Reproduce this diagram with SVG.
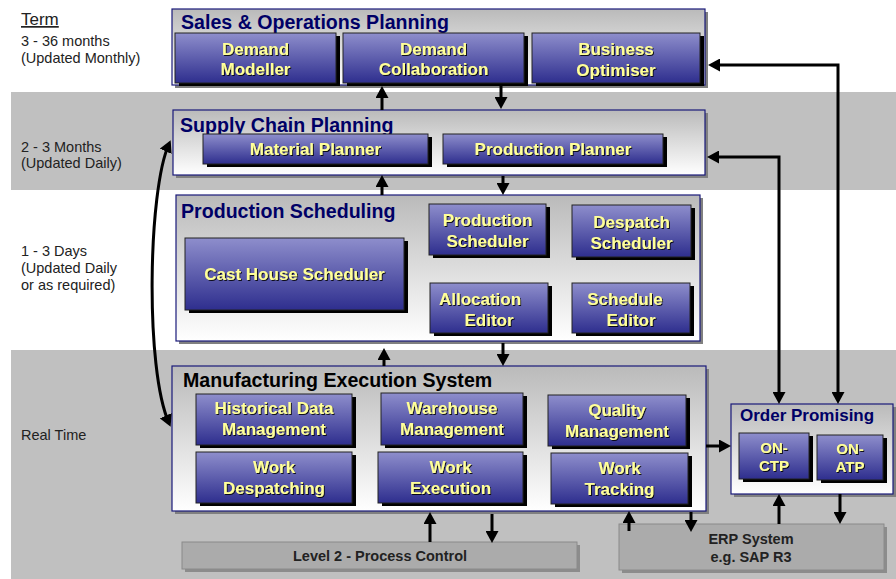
<svg xmlns="http://www.w3.org/2000/svg" width="896" height="579" viewBox="0 0 896 579">
<defs>
  <linearGradient id="btnGrad" x1="0" y1="0" x2="0" y2="1">
    <stop offset="0" stop-color="#8e8ecc"/>
    <stop offset="1" stop-color="#2e2e8e"/>
  </linearGradient>
  <linearGradient id="panelGrad" x1="0" y1="0" x2="0" y2="1">
    <stop offset="0" stop-color="#bababa"/>
    <stop offset="1" stop-color="#ffffff"/>
  </linearGradient>
  <filter id="ts" x="-10%" y="-30%" width="120%" height="160%">
    <feDropShadow dx="1" dy="1" stdDeviation="0.3" flood-color="#000" flood-opacity="0.85"/>
  </filter>
  <marker id="ah" viewBox="0 0 12 13" markerWidth="12" markerHeight="13" refX="8" refY="6.5" orient="auto-start-reverse" markerUnits="userSpaceOnUse">
    <path d="M0,0 L12,6.5 L0,13 z" fill="#000"/>
  </marker>
</defs>
<style>
  .band{fill:#c0c0c0}
  .lbl{font-family:"Liberation Sans",Arial,sans-serif;font-size:14.5px;fill:#222}
  .term{font-family:"Liberation Sans",Arial,sans-serif;font-size:17px;fill:#222;text-decoration:underline}
  .pshadow{fill:#808080}
  .panel{fill:url(#panelGrad);stroke:#1a1a7a;stroke-width:1.2}
  .ptitle{font-family:"Liberation Sans",Arial,sans-serif;font-weight:bold;font-size:19.6px;fill:#000066}
  .mtitle{font-family:"Liberation Sans",Arial,sans-serif;font-weight:bold;font-size:19.6px;fill:#000}
  .otitle{font-family:"Liberation Sans",Arial,sans-serif;font-weight:bold;font-size:17px;fill:#000066}
  .bshadow{fill:#000}
  .btn{fill:url(#btnGrad);stroke:#222;stroke-width:1}
  .bt{font-family:"Liberation Sans",Arial,sans-serif;font-weight:bold;font-size:17px;fill:#ffff99;text-anchor:middle;filter:url(#ts)}
  .bt15{font-family:"Liberation Sans",Arial,sans-serif;font-weight:bold;font-size:15px;fill:#ffff99;text-anchor:middle;filter:url(#ts)}
  .gbox{fill:#ababab;stroke:#8a8a8a;stroke-width:1}
  .gshadow{fill:#8c8c8c}
  .gt{font-family:"Liberation Sans",Arial,sans-serif;font-weight:bold;font-size:14.5px;fill:#222;text-anchor:middle}
  .conn{fill:none;stroke:#000;stroke-width:3}
</style>
<rect x="0" y="0" width="896" height="579" fill="#fff"/>
<g id="bands">
  <rect class="band" x="11" y="92" width="885" height="98"/>
  <rect class="band" x="11" y="350" width="885" height="229"/>
</g>
<g id="term-labels">
  <text class="term" x="21" y="25">Term</text>
  <text class="lbl" x="21" y="46">3 - 36 months</text>
  <text class="lbl" x="21" y="63">(Updated Monthly)</text>
  <text class="lbl" x="21" y="152">2 - 3 Months</text>
  <text class="lbl" x="21" y="168">(Updated Daily)</text>
  <text class="lbl" x="21" y="256">1 - 3 Days</text>
  <text class="lbl" x="21" y="273">(Updated Daily</text>
  <text class="lbl" x="21" y="290">or as required)</text>
  <text class="lbl" x="21" y="440">Real Time</text>
</g>

<g id="sales-operations-planning">
  <rect class="pshadow" x="175" y="12" width="533" height="76"/>
  <rect class="panel" x="172" y="9" width="533" height="76"/>
  <text class="ptitle" x="181" y="29">Sales &amp; Operations Planning</text>
  <g id="demand-modeller">
    <rect class="bshadow" x="179" y="36" width="161" height="50"/>
    <rect class="btn" x="175" y="33" width="161" height="50"/>
    <text class="bt" x="255.5" y="55">Demand</text>
    <text class="bt" x="255.5" y="75">Modeller</text>
  </g>
  <g id="demand-collaboration">
    <rect class="bshadow" x="347" y="36" width="181" height="50"/>
    <rect class="btn" x="343" y="33" width="181" height="50"/>
    <text class="bt" x="433.5" y="55">Demand</text>
    <text class="bt" x="433.5" y="75">Collaboration</text>
  </g>
  <g id="business-optimiser">
    <rect class="bshadow" x="536" y="36" width="168" height="50"/>
    <rect class="btn" x="532" y="33" width="168" height="50"/>
    <text class="bt" x="616" y="55">Business</text>
    <text class="bt" x="616" y="76">Optimiser</text>
  </g>
</g>

<g id="supply-chain-planning">
  <rect class="pshadow" x="176" y="113" width="532" height="65"/>
  <rect class="panel" x="173" y="110" width="532" height="65"/>
  <text class="ptitle" x="180" y="132">Supply Chain Planning</text>
  <g id="material-planner">
    <rect class="bshadow" x="207" y="137" width="225" height="30"/>
    <rect class="btn" x="203" y="134" width="225" height="30"/>
    <text class="bt" x="315.5" y="155">Material Planner</text>
  </g>
  <g id="production-planner">
    <rect class="bshadow" x="447" y="137" width="220" height="30"/>
    <rect class="btn" x="443" y="134" width="220" height="30"/>
    <text class="bt" x="553" y="155">Production Planner</text>
  </g>
</g>

<g id="production-scheduling">
  <rect class="pshadow" x="179" y="198" width="524" height="146"/>
  <rect class="panel" x="176" y="195" width="524" height="146"/>
  <text class="ptitle" x="181" y="218">Production Scheduling</text>
  <g id="cast-house-scheduler">
    <rect class="bshadow" x="189" y="241" width="219" height="72"/>
    <rect class="btn" x="185" y="238" width="219" height="72"/>
    <text class="bt" x="294.5" y="280">Cast House Scheduler</text>
  </g>
  <g id="production-scheduler">
    <rect class="bshadow" x="433" y="207" width="117" height="51"/>
    <rect class="btn" x="429" y="204" width="117" height="51"/>
    <text class="bt" x="487.5" y="226">Production</text>
    <text class="bt" x="487.5" y="247">Scheduler</text>
  </g>
  <g id="despatch-scheduler">
    <rect class="bshadow" x="576" y="208" width="119" height="52"/>
    <rect class="btn" x="572" y="205" width="119" height="52"/>
    <text class="bt" x="631.5" y="228">Despatch</text>
    <text class="bt" x="631.5" y="249">Scheduler</text>
  </g>
  <g id="allocation-editor">
    <rect class="bshadow" x="434" y="286" width="118" height="50"/>
    <rect class="btn" x="430" y="283" width="118" height="50"/>
    <text class="bt" x="480" y="305">Allocation</text>
    <text class="bt" x="489" y="326">Editor</text>
  </g>
  <g id="schedule-editor">
    <rect class="bshadow" x="576" y="286" width="118" height="50"/>
    <rect class="btn" x="572" y="283" width="118" height="50"/>
    <text class="bt" x="625" y="305">Schedule</text>
    <text class="bt" x="631" y="326">Editor</text>
  </g>
</g>

<g id="manufacturing-execution-system">
  <rect class="pshadow" x="175" y="369" width="534" height="145"/>
  <rect class="panel" x="172" y="366" width="534" height="145"/>
  <text class="mtitle" x="183" y="387">Manufacturing Execution System</text>
  <g id="historical-data-management">
    <rect class="bshadow" x="200" y="397" width="156" height="51"/>
    <rect class="btn" x="196" y="394" width="156" height="51"/>
    <text class="bt" x="274" y="414">Historical Data</text>
    <text class="bt" x="274" y="435">Management</text>
  </g>
  <g id="warehouse-management">
    <rect class="bshadow" x="385" y="396" width="142" height="52"/>
    <rect class="btn" x="381" y="393" width="142" height="52"/>
    <text class="bt" x="452" y="414">Warehouse</text>
    <text class="bt" x="452" y="435">Management</text>
  </g>
  <g id="quality-management">
    <rect class="bshadow" x="552" y="398" width="138" height="51"/>
    <rect class="btn" x="548" y="395" width="138" height="51"/>
    <text class="bt" x="617" y="416">Quality</text>
    <text class="bt" x="617" y="437">Management</text>
  </g>
  <g id="work-despatching">
    <rect class="bshadow" x="200" y="455" width="156" height="51"/>
    <rect class="btn" x="196" y="452" width="156" height="51"/>
    <text class="bt" x="274" y="473">Work</text>
    <text class="bt" x="274" y="494">Despatching</text>
  </g>
  <g id="work-execution">
    <rect class="bshadow" x="382" y="455" width="145" height="51"/>
    <rect class="btn" x="378" y="452" width="145" height="51"/>
    <text class="bt" x="450.5" y="473">Work</text>
    <text class="bt" x="450.5" y="494">Execution</text>
  </g>
  <g id="work-tracking">
    <rect class="bshadow" x="555" y="456" width="137" height="51"/>
    <rect class="btn" x="551" y="453" width="137" height="51"/>
    <text class="bt" x="619.5" y="474">Work</text>
    <text class="bt" x="619.5" y="495">Tracking</text>
  </g>
</g>

<g id="order-promising">
  <rect class="pshadow" x="734" y="407" width="162" height="90"/>
  <rect class="panel" x="731" y="404" width="162" height="90"/>
  <text class="otitle" x="740" y="421">Order Promising</text>
  <g id="on-ctp">
    <rect class="bshadow" x="743" y="436" width="70" height="46"/>
    <rect class="btn" x="739" y="433" width="70" height="46"/>
    <text class="bt15" x="774" y="453">ON-</text>
    <text class="bt15" x="774" y="471">CTP</text>
  </g>
  <g id="on-atp">
    <rect class="bshadow" x="821" y="438" width="66" height="45"/>
    <rect class="btn" x="817" y="435" width="66" height="45"/>
    <text class="bt15" x="850" y="454">ON-</text>
    <text class="bt15" x="850" y="472">ATP</text>
  </g>
</g>

<g id="level2-process-control">
  <rect class="gshadow" x="185" y="545" width="395" height="27"/>
  <rect class="gbox" x="182" y="542" width="395" height="27"/>
  <text class="gt" x="380" y="561">Level 2 - Process Control</text>
</g>

<g id="erp-system">
  <rect class="gshadow" x="622" y="527" width="265" height="46"/>
  <rect class="gbox" x="619" y="524" width="265" height="46"/>
  <text class="gt" x="751" y="544">ERP System</text>
  <text class="gt" x="751" y="562">e.g. SAP R3</text>
</g>

<g id="connectors">
  <line class="conn" x1="382" y1="110" x2="382" y2="90" marker-end="url(#ah)"/>
  <line class="conn" x1="501" y1="85" x2="501" y2="105" marker-end="url(#ah)"/>
  <line class="conn" x1="382" y1="195" x2="382" y2="179" marker-end="url(#ah)"/>
  <line class="conn" x1="503" y1="176" x2="503" y2="191" marker-end="url(#ah)"/>
  <line class="conn" x1="384" y1="366" x2="384" y2="352" marker-end="url(#ah)"/>
  <line class="conn" x1="503" y1="343" x2="503" y2="362" marker-end="url(#ah)"/>
  <path class="conn" d="M169,144 C148,190 145,370 169,423" marker-start="url(#ah)" marker-end="url(#ah)"/>
  <path class="conn" d="M838,400 L838,65 L712,65" marker-start="url(#ah)" marker-end="url(#ah)"/>
  <path class="conn" d="M779,400 L779,157 L711,157" marker-start="url(#ah)" marker-end="url(#ah)"/>
  <line class="conn" x1="706" y1="446" x2="727" y2="446" marker-end="url(#ah)"/>
  <line class="conn" x1="779" y1="524" x2="779" y2="498" marker-end="url(#ah)"/>
  <line class="conn" x1="840" y1="494" x2="840" y2="520" marker-end="url(#ah)"/>
  <line class="conn" x1="629" y1="531" x2="629" y2="515" marker-end="url(#ah)"/>
  <line class="conn" x1="691" y1="512" x2="691" y2="528" marker-end="url(#ah)"/>
  <line class="conn" x1="430" y1="542" x2="430" y2="516" marker-end="url(#ah)"/>
  <line class="conn" x1="492" y1="514" x2="492" y2="539" marker-end="url(#ah)"/>
</g>
</svg>
